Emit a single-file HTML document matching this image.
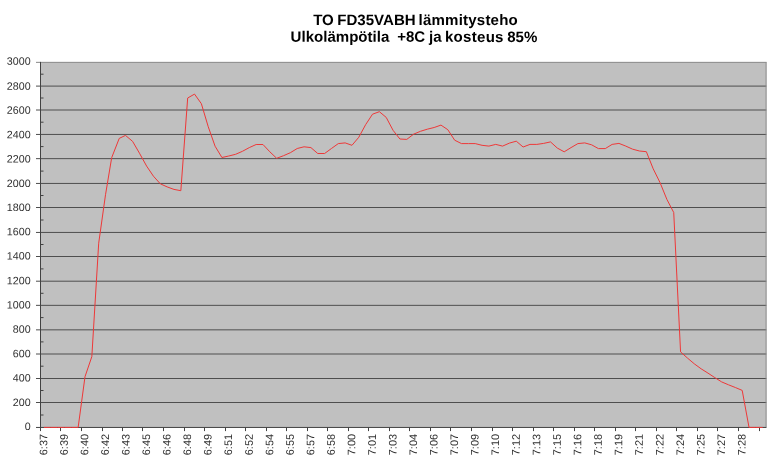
<!DOCTYPE html>
<html lang="fi"><head><meta charset="utf-8"><title>TO FD35VABH lämmitysteho</title>
<style>html,body{margin:0;padding:0;background:#fff}body{width:774px;height:472px;overflow:hidden}svg{display:block}text{font-family:"Liberation Sans",sans-serif}</style></head><body>
<svg width="774" height="472" viewBox="0 0 774 472">
<rect width="774" height="472" fill="#fff"/>
<rect x="40.5" y="62.4" width="725.9" height="365.1" fill="#c0c0c0"/>
<g stroke="#4e4e4e" stroke-width="1" fill="none">
<line x1="36" y1="86.10" x2="766.4" y2="86.10"/>
<line x1="36" y1="110.00" x2="766.4" y2="110.00"/>
<line x1="36" y1="134.45" x2="766.4" y2="134.45"/>
<line x1="36" y1="158.65" x2="766.4" y2="158.65"/>
<line x1="36" y1="183.45" x2="766.4" y2="183.45"/>
<line x1="36" y1="207.50" x2="766.4" y2="207.50"/>
<line x1="36" y1="232.45" x2="766.4" y2="232.45"/>
<line x1="36" y1="256.50" x2="766.4" y2="256.50"/>
<line x1="36" y1="281.20" x2="766.4" y2="281.20"/>
<line x1="36" y1="305.35" x2="766.4" y2="305.35"/>
<line x1="36" y1="329.85" x2="766.4" y2="329.85"/>
<line x1="36" y1="354.00" x2="766.4" y2="354.00"/>
<line x1="36" y1="378.50" x2="766.4" y2="378.50"/>
<line x1="36" y1="402.50" x2="766.4" y2="402.50"/>
</g>
<line x1="36" y1="62.35" x2="766.6" y2="62.35" stroke="#878787"/>
<line x1="766.1" y1="62.35" x2="766.1" y2="427.45" stroke="#8c8c8c"/>
<g stroke="#424242" stroke-width="1" fill="none">
<line x1="40.5" y1="61.9" x2="40.5" y2="431.1"/>
<line x1="36" y1="427.45" x2="766.4" y2="427.45"/>
<line x1="40.5" y1="415.0" x2="43.5" y2="415.0"/>
<line x1="40.5" y1="390.5" x2="43.5" y2="390.5"/>
<line x1="40.5" y1="366.2" x2="43.5" y2="366.2"/>
<line x1="40.5" y1="341.9" x2="43.5" y2="341.9"/>
<line x1="40.5" y1="317.6" x2="43.5" y2="317.6"/>
<line x1="40.5" y1="293.3" x2="43.5" y2="293.3"/>
<line x1="40.5" y1="268.9" x2="43.5" y2="268.9"/>
<line x1="40.5" y1="244.5" x2="43.5" y2="244.5"/>
<line x1="40.5" y1="220.0" x2="43.5" y2="220.0"/>
<line x1="40.5" y1="195.5" x2="43.5" y2="195.5"/>
<line x1="40.5" y1="171.1" x2="43.5" y2="171.1"/>
<line x1="40.5" y1="146.6" x2="43.5" y2="146.6"/>
<line x1="40.5" y1="122.2" x2="43.5" y2="122.2"/>
<line x1="40.5" y1="98.0" x2="43.5" y2="98.0"/>
<line x1="40.5" y1="74.2" x2="43.5" y2="74.2"/>
<line x1="60.5" y1="427.4" x2="60.5" y2="431.1"/>
<line x1="81.5" y1="427.4" x2="81.5" y2="431.1"/>
<line x1="102.5" y1="427.4" x2="102.5" y2="431.1"/>
<line x1="122.5" y1="427.4" x2="122.5" y2="431.1"/>
<line x1="142.5" y1="427.4" x2="142.5" y2="431.1"/>
<line x1="163.5" y1="427.4" x2="163.5" y2="431.1"/>
<line x1="184.5" y1="427.4" x2="184.5" y2="431.1"/>
<line x1="204.5" y1="427.4" x2="204.5" y2="431.1"/>
<line x1="225.5" y1="427.4" x2="225.5" y2="431.1"/>
<line x1="245.5" y1="427.4" x2="245.5" y2="431.1"/>
<line x1="266.5" y1="427.4" x2="266.5" y2="431.1"/>
<line x1="286.5" y1="427.4" x2="286.5" y2="431.1"/>
<line x1="307.5" y1="427.4" x2="307.5" y2="431.1"/>
<line x1="327.5" y1="427.4" x2="327.5" y2="431.1"/>
<line x1="348.5" y1="427.4" x2="348.5" y2="431.1"/>
<line x1="368.5" y1="427.4" x2="368.5" y2="431.1"/>
<line x1="389.5" y1="427.4" x2="389.5" y2="431.1"/>
<line x1="409.5" y1="427.4" x2="409.5" y2="431.1"/>
<line x1="430.5" y1="427.4" x2="430.5" y2="431.1"/>
<line x1="450.5" y1="427.4" x2="450.5" y2="431.1"/>
<line x1="471.5" y1="427.4" x2="471.5" y2="431.1"/>
<line x1="492.5" y1="427.4" x2="492.5" y2="431.1"/>
<line x1="512.5" y1="427.4" x2="512.5" y2="431.1"/>
<line x1="533.5" y1="427.4" x2="533.5" y2="431.1"/>
<line x1="553.5" y1="427.4" x2="553.5" y2="431.1"/>
<line x1="574.5" y1="427.4" x2="574.5" y2="431.1"/>
<line x1="594.5" y1="427.4" x2="594.5" y2="431.1"/>
<line x1="615.5" y1="427.4" x2="615.5" y2="431.1"/>
<line x1="635.5" y1="427.4" x2="635.5" y2="431.1"/>
<line x1="656.5" y1="427.4" x2="656.5" y2="431.1"/>
<line x1="676.5" y1="427.4" x2="676.5" y2="431.1"/>
<line x1="697.5" y1="427.4" x2="697.5" y2="431.1"/>
<line x1="717.5" y1="427.4" x2="717.5" y2="431.1"/>
<line x1="738.5" y1="427.4" x2="738.5" y2="431.1"/>
<line x1="759.5" y1="427.4" x2="759.5" y2="431.1"/>
</g>
<polyline points="43.92,427.4 50.77,427.4 57.61,427.4 64.46,427.4 71.31,427.4 78.15,427.4 85.00,376.7 91.84,356.6 98.69,243.2 105.53,194.7 111.68,157.7 119.23,138.4 125.47,135.4 132.62,141.4 139.46,153.2 146.61,166.1 153.45,176.2 160.30,183.8 167.15,186.9 173.99,189.4 180.84,190.7 187.68,98.0 194.53,94.1 201.37,103.7 208.22,126.7 215.07,146.2 221.91,157.5 228.76,156.0 235.60,154.3 242.45,151.3 249.29,147.6 256.14,144.5 262.99,144.5 269.83,151.8 276.68,158.3 283.52,155.7 290.37,152.7 297.21,148.5 304.06,146.8 310.91,147.6 317.75,153.5 324.60,153.5 331.44,148.5 338.29,143.6 345.13,142.9 351.98,145.3 358.83,137.2 365.67,124.6 372.52,114.2 379.36,111.7 386.21,117.4 393.05,130.3 399.90,139.0 406.75,139.4 413.59,134.2 420.44,131.3 427.28,129.2 434.13,127.5 440.97,125.1 447.82,129.7 454.67,140.2 461.51,143.6 468.36,143.6 475.20,143.6 482.05,145.3 488.89,146.1 495.74,144.4 502.59,146.1 509.43,143.1 516.28,141.2 523.12,147.0 529.97,144.4 536.81,144.4 543.66,143.4 550.51,141.9 557.35,148.1 564.20,151.8 571.04,147.6 577.89,143.6 584.73,142.9 591.58,144.8 598.43,148.6 605.27,148.6 612.12,144.4 618.96,143.4 625.81,146.1 632.65,149.2 639.50,151.0 646.35,151.7 653.19,168.8 660.04,182.6 666.88,199.4 673.73,212.5 680.57,351.9 687.42,358.0 694.27,363.8 701.11,368.8 707.96,373.1 714.80,377.6 721.65,381.9 728.49,384.8 735.34,387.5 742.19,390.4 749.03,427.4 755.88,427.4 762.72,427.4" fill="none" stroke="#ee3838" stroke-width="1" stroke-linejoin="round"/>
<g font-size="10.7" fill="#303030" text-anchor="end">
<text transform="translate(30.6 64.88) rotate(0.05)">3000</text>
<text transform="translate(30.6 89.68) rotate(0.05)">2800</text>
<text transform="translate(30.6 113.73) rotate(0.05)">2600</text>
<text transform="translate(30.6 138.23) rotate(0.05)">2400</text>
<text transform="translate(30.6 162.43) rotate(0.05)">2200</text>
<text transform="translate(30.6 187.13) rotate(0.05)">2000</text>
<text transform="translate(30.6 211.13) rotate(0.05)">1800</text>
<text transform="translate(30.6 235.33) rotate(0.05)">1600</text>
<text transform="translate(30.6 259.58) rotate(0.05)">1400</text>
<text transform="translate(30.6 284.33) rotate(0.05)">1200</text>
<text transform="translate(30.6 308.63) rotate(0.05)">1000</text>
<text transform="translate(30.6 332.83) rotate(0.05)">800</text>
<text transform="translate(30.6 357.33) rotate(0.05)">600</text>
<text transform="translate(30.6 381.63) rotate(0.05)">400</text>
<text transform="translate(30.6 405.93) rotate(0.05)">200</text>
<text transform="translate(30.6 429.93) rotate(0.05)">0</text>
</g>
<g font-size="10.9" fill="#303030" text-anchor="end">
<text transform="translate(43.72 434.0) rotate(-89.95)" dy="3.55">6:37</text>
<text transform="translate(64.26 434.0) rotate(-89.95)" dy="3.55">6:39</text>
<text transform="translate(84.80 434.0) rotate(-89.95)" dy="3.55">6:40</text>
<text transform="translate(105.33 434.0) rotate(-89.95)" dy="3.55">6:42</text>
<text transform="translate(125.87 434.0) rotate(-89.95)" dy="3.55">6:43</text>
<text transform="translate(146.41 434.0) rotate(-89.95)" dy="3.55">6:45</text>
<text transform="translate(166.95 434.0) rotate(-89.95)" dy="3.55">6:46</text>
<text transform="translate(187.48 434.0) rotate(-89.95)" dy="3.55">6:48</text>
<text transform="translate(208.02 434.0) rotate(-89.95)" dy="3.55">6:49</text>
<text transform="translate(228.56 434.0) rotate(-89.95)" dy="3.55">6:51</text>
<text transform="translate(249.09 434.0) rotate(-89.95)" dy="3.55">6:52</text>
<text transform="translate(269.63 434.0) rotate(-89.95)" dy="3.55">6:54</text>
<text transform="translate(290.17 434.0) rotate(-89.95)" dy="3.55">6:55</text>
<text transform="translate(310.71 434.0) rotate(-89.95)" dy="3.55">6:57</text>
<text transform="translate(331.24 434.0) rotate(-89.95)" dy="3.55">6:58</text>
<text transform="translate(351.78 434.0) rotate(-89.95)" dy="3.55">7:00</text>
<text transform="translate(372.32 434.0) rotate(-89.95)" dy="3.55">7:01</text>
<text transform="translate(392.85 434.0) rotate(-89.95)" dy="3.55">7:03</text>
<text transform="translate(413.39 434.0) rotate(-89.95)" dy="3.55">7:04</text>
<text transform="translate(433.93 434.0) rotate(-89.95)" dy="3.55">7:06</text>
<text transform="translate(454.47 434.0) rotate(-89.95)" dy="3.55">7:07</text>
<text transform="translate(475.00 434.0) rotate(-89.95)" dy="3.55">7:09</text>
<text transform="translate(495.54 434.0) rotate(-89.95)" dy="3.55">7:10</text>
<text transform="translate(516.08 434.0) rotate(-89.95)" dy="3.55">7:12</text>
<text transform="translate(536.61 434.0) rotate(-89.95)" dy="3.55">7:13</text>
<text transform="translate(557.15 434.0) rotate(-89.95)" dy="3.55">7:15</text>
<text transform="translate(577.69 434.0) rotate(-89.95)" dy="3.55">7:16</text>
<text transform="translate(598.23 434.0) rotate(-89.95)" dy="3.55">7:18</text>
<text transform="translate(618.76 434.0) rotate(-89.95)" dy="3.55">7:19</text>
<text transform="translate(639.30 434.0) rotate(-89.95)" dy="3.55">7:21</text>
<text transform="translate(659.84 434.0) rotate(-89.95)" dy="3.55">7:22</text>
<text transform="translate(680.37 434.0) rotate(-89.95)" dy="3.55">7:24</text>
<text transform="translate(700.91 434.0) rotate(-89.95)" dy="3.55">7:25</text>
<text transform="translate(721.45 434.0) rotate(-89.95)" dy="3.55">7:27</text>
<text transform="translate(741.99 434.0) rotate(-89.95)" dy="3.55">7:28</text>
</g>
<g font-size="15.05" font-weight="bold" fill="#000" text-anchor="start">
<text y="25.05" transform="rotate(0.03 415 25)"><tspan x="313.2">TO </tspan><tspan x="337.3">FD35VABH </tspan><tspan x="418.55" letter-spacing="0.2">lämmitysteho</tspan></text>
<text y="41.85" transform="rotate(0.03 415 42)" xml:space="preserve"><tspan x="290.6">Ulkolämpötila  </tspan><tspan x="397.15">+8C </tspan><tspan x="429.05">ja </tspan><tspan x="444.95" letter-spacing="0.28">kosteus </tspan><tspan x="507.2">85%</tspan></text>
</g>
</svg></body></html>
